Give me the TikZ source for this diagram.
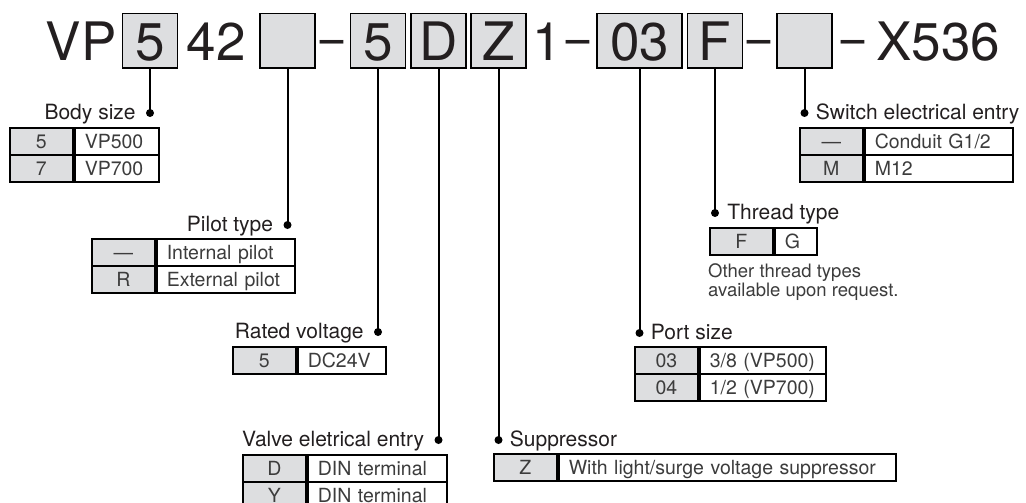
\documentclass[tikz,border=0pt]{standalone}
\usepackage{fontspec}
\setmainfont{TeX Gyre Heros}
\usetikzlibrary{positioning}

\definecolor{boxgray}{RGB}{221,222,224}
\definecolor{ink}{RGB}{35,31,32}
\definecolor{tabink}{RGB}{60,60,60}

\newcommand{\headfont}{\fontsize{53}{53}\selectfont}
\newcommand{\lblfont}{\fontsize{21}{24}\selectfont}
\newcommand{\tabfont}{\fontsize{19.5}{22}\selectfont}
\newcommand{\notefont}{\fontsize{18.5}{19}\selectfont}

% one option table: name, left x, top y, text width of value column, code/value rows
\newcommand{\optable}[5]{%
  \foreach \cd/\vl [count=\i] in {#5} {
    \node[codecell] (#1c\i) at (#2,{#3+(\i-1)*26.8}) {\cd};
    \node[valcell,text width=#4] (#1v\i) at (#1c\i.east) {\vl};
  }%
}

\begin{document}
\begin{tikzpicture}[x=1pt,y=-1pt,color=ink,
  hbox/.style={draw=black,line width=1.8pt,fill=boxgray,minimum width=55pt,minimum height=54.5pt,
    inner sep=0pt,text height=40.5pt,text depth=0pt,font=\headfont},
  htext/.style={anchor=base west,inner sep=0pt,font=\headfont},
  hdash/.style={anchor=base,inner sep=0pt,font=\headfont},
  leader/.style={draw=black,line width=2pt},
  dot/.style={circle,fill=black,inner sep=0pt,minimum size=8pt},
  lbl/.style={inner sep=0pt,text height=13pt,text depth=0pt,font=\lblfont},
  codecell/.style={anchor=north west,draw=black,line width=2.2pt,fill=boxgray,minimum width=62.5pt,
    minimum height=26.8pt,inner sep=0pt,text height=13.8pt,text depth=0pt,text=tabink,font=\tabfont},
  valcell/.style={anchor=west,draw=black,line width=2.2pt,fill=white,minimum height=26.8pt,
    inner xsep=10pt,inner ysep=0pt,align=left,text height=13.8pt,text depth=0pt,text=tabink,font=\tabfont},
  note/.style={inner sep=0pt,align=left,text=tabink,font=\notefont}]

\useasboundingbox (0,0) rectangle (1026,503);
\clip (0,0) rectangle (1026,503);

% order code
\node[htext] (tvp) at (45.5,61) {VP};
\node[hbox] (hsize) at (150,40.75) {5};
\node[htext] (t42) at (186.5,61) {42};
\node[hbox] (hpilot) at (287.5,40.75) {};
\node[hdash] (dash1) at (331.5,56) {−};
\node[hbox] (hvolt) at (378,40.75) {5};
\node[hbox] (hentry) at (438.5,40.75) {D};
\node[hbox] (hsup) at (498.5,40.75) {Z};
\node[htext] (t1) at (532,61) {1};
\node[hdash] (dash2) at (577.5,56) {−};
\node[hbox,minimum width=85pt] (hport) at (639.5,40.75) {03};
\node[hbox] (hthread) at (715,40.75) {F};
\node[hdash] (dash3) at (759,56) {−};
\node[hbox] (hswitch) at (804.5,40.75) {};
\node[hdash] (dash4) at (852.5,56) {−};
\node[htext] (tx) at (876,61) {X536};

% dots at the end of the leaders
\node[dot] (dsize) at (hsize.south |- 0,113) {};
\node[dot] (dpilot) at (hpilot.south |- 0,225) {};
\node[dot] (dvolt) at (hvolt.south |- 0,332) {};
\node[dot] (dentry) at (hentry.south |- 0,440) {};
\node[dot] (dsup) at (hsup.south |- 0,440) {};
\node[dot] (dport) at (hport.south |- 0,333) {};
\node[dot] (dthread) at (hthread.south |- 0,213) {};
\node[dot] (dswitch) at (hswitch.south |- 0,113) {};

\draw[leader] (hsize.south) -- (dsize.center);
\draw[leader] (hpilot.south) -- (dpilot.center);
\draw[leader] (hvolt.south) -- (dvolt.center);
\draw[leader] (hentry.south) -- (dentry.center);
\draw[leader] (hsup.south) -- (dsup.center);
\draw[leader] (hport.south) -- (dport.center);
\draw[leader] (hthread.south) -- (dthread.center);
\draw[leader] (hswitch.south) -- (dswitch.center);

% labels
\node[lbl,left=10pt of dsize] (lsize) {Body size};
\node[lbl,left=10pt of dpilot] (lpilot) {Pilot type};
\node[lbl,left=10pt of dvolt] (lvolt) {Rated voltage};
\node[lbl,left=10pt of dentry] (lentry) {Valve eletrical entry};
\node[lbl,right=7pt of dsup] (lsup) {Suppressor};
\node[lbl,right=7pt of dport] (lport) {Port size};
\node[lbl,right=8pt of dthread] (lthread) {Thread type};
\node[lbl,right=7pt of dswitch] (lswitch) {Switch electrical entry};

% tables
\optable{tsize}{9}{127}{64.5pt}{5/VP500,7/VP700}
\optable{tpilot}{91}{238}{118.5pt}{—/Internal pilot,R/External pilot}
\optable{tvolt}{232}{346}{68.5pt}{5/DC24V}
\optable{tentry}{242}{454}{119.5pt}{D/DIN terminal,Y/DIN terminal}
\optable{tsup}{493}{453}{317.5pt}{Z/{With light/surge voltage suppressor}}
\optable{tport}{634}{346}{106.5pt}{03/{3/8 (VP500)},04/{1/2 (VP700)}}
\optable{tthread}{709}{227}{22.5pt}{F/G}
\optable{tswitch}{799}{127}{128.5pt}{—/{Conduit G1/2},M/M12}

\node[note,anchor=north west] (nthread) at (708,263) {Other thread types\\available upon request.};
\end{tikzpicture}
\end{document}
